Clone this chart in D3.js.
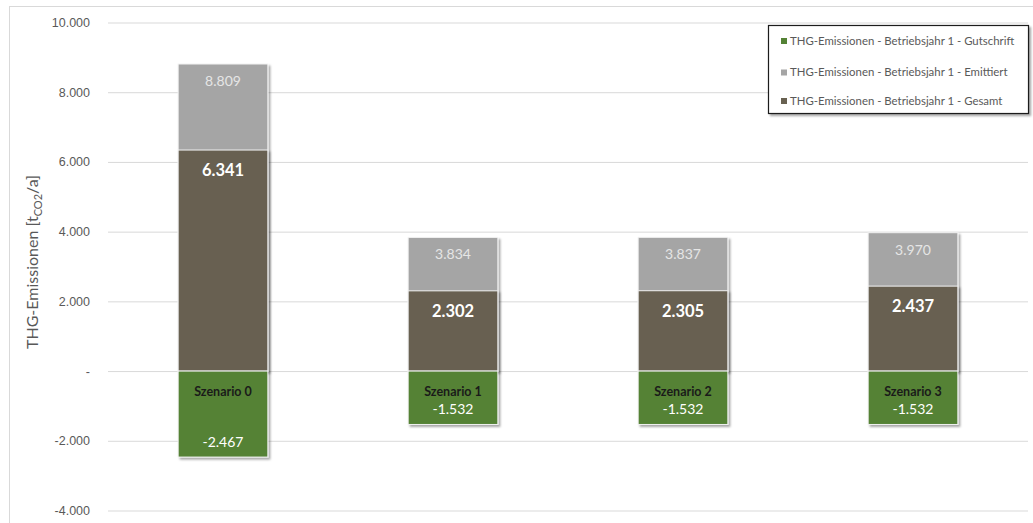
<!DOCTYPE html>
<html><head><meta charset="utf-8">
<script src="https://cdn.jsdelivr.net/npm/d3@7"></script>
<style>body{margin:0;background:#fff}svg{display:block;font-family:Lato,"Open Sans",sans-serif}</style>
</head><body><svg id="c" width="1033" height="523"></svg>
<script>
const categories = ["Szenario 0","Szenario 1","Szenario 2","Szenario 3"];
const gutschrift = [-2467,-1532,-1532,-1532];
const emittiert = [8809,3834,3837,3970];
const gesamt = [6341,2302,2305,2437];
const yTicks = [-4000,-2000,0,2000,4000,6000,8000,10000];
const seriesNames = ["THG-Emissionen - Betriebsjahr 1 - Gutschrift","THG-Emissionen - Betriebsjahr 1 - Emittiert","THG-Emissionen - Betriebsjahr 1 - Gesamt"];
const colors = {g:"#548235", e:"#a5a5a5", t:"#686151"};

const svg = d3.select("#c");
const defs = svg.append("defs");
const f = defs.append("filter").attr("id","sh").attr("x","-10%").attr("y","-10%").attr("width","130%").attr("height","130%");
f.append("feDropShadow").attr("dx",2).attr("dy",2).attr("stdDeviation",1.3).attr("flood-color","#000").attr("flood-opacity",0.35);

// outer border
svg.append("rect").attr("x",9.5).attr("y",6.5).attr("width",1040).attr("height",530).attr("fill","none").attr("stroke","#d9d9d9");

const x = d3.scaleBand().domain(categories).range([108,1028]).paddingInner(0.61).paddingOuter(0.305);
const y = d3.scaleLinear().domain([-4000,10000]).range([510.5,22.5]);
const fmt = v => v===0 ? "-" : d3.format(",")(v).replace(/,/g,".").replace("\u2212","-");

// grid
const yAxis = d3.axisLeft(y).tickValues(yTicks).tickSize(-(1028-108)).tickFormat(fmt).tickPadding(18);
const ga = svg.append("g").attr("transform","translate(108,0)").call(yAxis);
ga.select(".domain").remove();
ga.selectAll(".tick line").attr("stroke","#d9d9d9").attr("stroke-width",1);
ga.selectAll(".tick text").attr("fill","#595959").attr("font-size",12.5);

// axis title
const tt = svg.append("text").attr("transform","translate(38,262) rotate(-90)").attr("text-anchor","middle")
  .attr("fill","#595959").attr("font-size",16);
tt.append("tspan").text("THG-Emissionen [t");
tt.append("tspan").attr("font-size",11).attr("dy",4).text("CO2");
tt.append("tspan").attr("dy",-4).text("/a]");

const bw = x.bandwidth();
const bars = svg.append("g");
// emittiert (back)
bars.selectAll(".e").data(categories).join("rect").attr("filter","url(#sh)")
  .attr("x",d=>x(d)).attr("width",bw).attr("y",(d,i)=>y(emittiert[i])).attr("height",(d,i)=>y(0)-y(emittiert[i]))
  .attr("fill",colors.e).attr("stroke","#f2f2f2").attr("stroke-width",1);
// gesamt
bars.selectAll(".t").data(categories).join("rect").attr("filter","url(#sh)")
  .attr("x",d=>x(d)).attr("width",bw).attr("y",(d,i)=>y(gesamt[i])).attr("height",(d,i)=>y(0)-y(gesamt[i]))
  .attr("fill",colors.t).attr("stroke","#f2f2f2").attr("stroke-width",1);
// gutschrift
bars.selectAll(".g").data(categories).join("rect").attr("filter","url(#sh)")
  .attr("x",d=>x(d)).attr("width",bw).attr("y",y(0)).attr("height",(d,i)=>y(gutschrift[i])-y(0))
  .attr("fill",colors.g).attr("stroke","#f2f2f2").attr("stroke-width",1);

const lab = svg.append("g").attr("text-anchor","middle");
categories.forEach((c,i)=>{
  const cx = x(c)+bw/2;
  lab.append("text").attr("x",cx).attr("y",y(emittiert[i])+17).attr("dy","0.35em")
    .attr("fill","#e6e6e6").attr("font-size",14).text(fmt(emittiert[i]));
  lab.append("text").attr("x",cx).attr("y",y(gesamt[i])+20).attr("dy","0.35em")
    .attr("fill","#ffffff").attr("font-size",16.5).attr("font-weight","bold").text(fmt(gesamt[i]));
  lab.append("text").attr("x",cx).attr("y",y(gutschrift[i])-15).attr("dy","0.35em")
    .attr("fill","#ffffff").attr("font-size",14).text(fmt(gutschrift[i]));
  lab.append("text").attr("x",cx).attr("y",y(0)+21).attr("dy","0.35em")
    .attr("fill","#1a1a1a").attr("font-size",12.5).attr("font-weight","bold").text(c);
});

// legend
const lg = svg.append("g");
lg.append("rect").attr("x",768.5).attr("y",25.5).attr("width",260).attr("height",88)
  .attr("fill","#fff").attr("stroke","#1a1a1a").attr("stroke-width",1.2).attr("filter","url(#sh)");
const lcol = [colors.g,colors.e,colors.t];
const ly = [41,72.5,101];
seriesNames.forEach((n,i)=>{
  lg.append("rect").attr("x",781).attr("y",ly[i]-3).attr("width",6).attr("height",6).attr("fill",lcol[i]);
  lg.append("text").attr("x",790).attr("y",ly[i]).attr("dy","0.35em").attr("fill","#595959").attr("font-size",11.4).text(n);
});
</script></body></html>
